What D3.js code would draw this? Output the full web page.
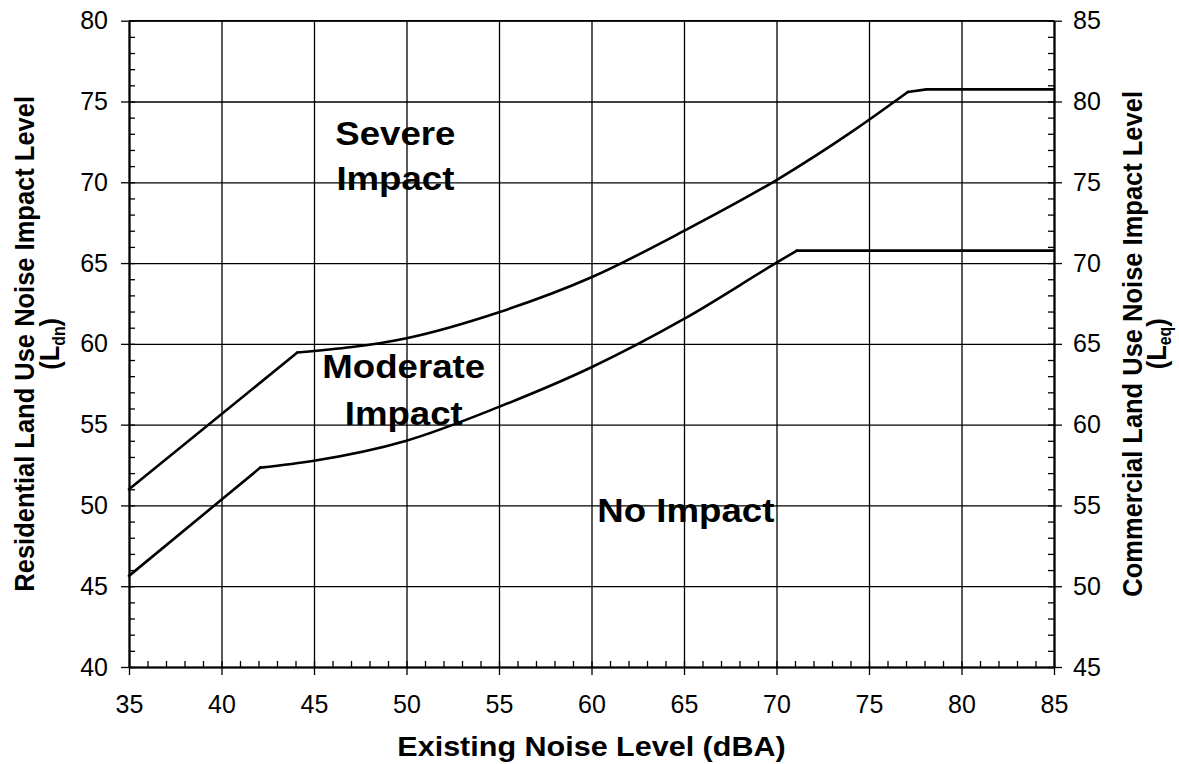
<!DOCTYPE html>
<html><head><meta charset="utf-8">
<script src="https://cdn.jsdelivr.net/npm/d3@7"></script>
<style>
body{margin:0;background:#fff}
text{font-family:"Liberation Sans",Arial,Helvetica,sans-serif;fill:#000}
</style>
</head><body>
<svg id="chart" width="1179" height="764"></svg>
<script>
// ---- data ----
const xTicks = [35, 40, 45, 50, 55, 60, 65, 70, 75, 80, 85];
const leftTicks = [40, 45, 50, 55, 60, 65, 70, 75, 80];
const rightTicks = [45, 50, 55, 60, 65, 70, 75, 80, 85];

// Severe impact onset (upper curve)
const severeX = [35, 44.1, 50, 55, 60, 65, 70, 74.2, 77.1, 78.1, 85];
const severeY = [51.0, 59.46, 60.35, 61.96, 64.12, 66.99, 70.14, 73.23, 75.59, 75.75, 75.75];
// Moderate impact onset (lower curve)
const moderateX = [35, 42.1, 45, 50, 55, 60, 65, 70, 71.1, 85];
const moderateY = [45.64, 52.34, 52.77, 54.01, 56.1, 58.55, 61.54, 65.02, 65.77, 65.77];

const zoneLabels = [
  {lines: ["Severe", "Impact"], x: 49.4, y: [72.31, 69.52]},
  {lines: ["Moderate", "Impact"], x: 49.85, y: [57.89, 54.98]},
  {lines: ["No Impact"], x: 65.1, y: [49.0]}
];

// ---- layout ----
const L = 129, R = 1054, T = 20.7, B = 667;
const SX = 1.11; // horizontal stretch of the bold texts in the reference
const svg = d3.select("#chart");
const x = d3.scaleLinear().domain([35, 85]).range([L, R]);
const y = d3.scaleLinear().domain([40, 80]).range([B, T]);
const yR = d3.scaleLinear().domain([45, 85]).range([B, T]);

// zone labels (under grid)
zoneLabels.forEach(z => {
  z.lines.forEach((t, i) => {
    svg.append("text").attr("transform", `translate(${x(z.x)},${y(z.y[i])}) scale(${SX},1)`)
      .attr("text-anchor", "middle").attr("font-size", 33).attr("font-weight", "bold").text(t);
  });
});

// gridlines
svg.append("g").attr("transform", `translate(0,${B})`)
  .call(d3.axisBottom(x).tickValues(xTicks).tickSize(-(B - T)).tickFormat(""))
  .call(g => g.select(".domain").remove())
  .call(g => g.selectAll("line").attr("stroke", "#000").attr("stroke-width", 1.3));
svg.append("g").attr("transform", `translate(${L},0)`)
  .call(d3.axisLeft(y).tickValues(leftTicks).tickSize(-(R - L)).tickFormat(""))
  .call(g => g.select(".domain").remove())
  .call(g => g.selectAll("line").attr("stroke", "#000").attr("stroke-width", 1.3));

// minor ticks (inside)
const minorX = d3.range(35, 86, 1), minorL = d3.range(40, 81, 1), minorR = d3.range(45, 86, 1);
svg.append("g").attr("transform", `translate(0,${B})`)
  .call(d3.axisBottom(x).tickValues(minorX).tickSize(-6).tickSizeOuter(0).tickFormat(""))
  .call(g => g.select(".domain").remove())
  .call(g => g.selectAll("line").attr("stroke", "#000").attr("stroke-width", 1.3));
svg.append("g").attr("transform", `translate(${L},0)`)
  .call(d3.axisLeft(y).tickValues(minorL).tickSize(-6).tickSizeOuter(0).tickFormat(""))
  .call(g => g.select(".domain").remove())
  .call(g => g.selectAll("line").attr("stroke", "#000").attr("stroke-width", 1.3));
svg.append("g").attr("transform", `translate(${R},0)`)
  .call(d3.axisRight(yR).tickValues(minorR).tickSize(-6).tickSizeOuter(0).tickFormat(""))
  .call(g => g.select(".domain").remove())
  .call(g => g.selectAll("line").attr("stroke", "#000").attr("stroke-width", 1.3));

// major axes
const fs = 25;
const styleAxis = g => {
  g.select(".domain").attr("stroke", "#000").attr("stroke-width", 2.2);
  g.selectAll(".tick line").attr("stroke", "#000").attr("stroke-width", 1.3);
  g.selectAll(".tick text").attr("font-size", fs).attr("font-family", "Liberation Sans, Arial, sans-serif").attr("fill", "#000");
};
svg.append("g").attr("transform", `translate(0,${B})`)
  .call(d3.axisBottom(x).tickValues(xTicks).tickSize(8).tickSizeOuter(0).tickPadding(20))
  .call(styleAxis);
svg.append("g").attr("transform", `translate(${L},0)`)
  .call(d3.axisLeft(y).tickValues(leftTicks).tickSize(8).tickSizeOuter(0).tickPadding(13))
  .call(styleAxis);
svg.append("g").attr("transform", `translate(${R},0)`)
  .call(d3.axisRight(yR).tickValues(rightTicks).tickSize(8).tickSizeOuter(0).tickPadding(11))
  .call(styleAxis);
// top border
svg.append("line").attr("x1", L).attr("x2", R).attr("y1", T).attr("y2", T)
  .attr("stroke", "#000").attr("stroke-width", 1.6);

// curves: linear lead-in, smooth middle, linear tail
function drawCurve(xs, ys, s0, s1) {
  const pts = xs.map((v, i) => [v, ys[i]]);
  const lin = d3.line().x(d => x(d[0])).y(d => y(d[1]));
  const smooth = d3.line().x(d => x(d[0])).y(d => y(d[1])).curve(d3.curveMonotoneX);
  const g = svg.append("g").attr("fill", "none").attr("stroke", "#000")
    .attr("stroke-width", 2.6).attr("stroke-linejoin", "round").attr("stroke-linecap", "round");
  g.append("path").attr("d", lin(pts.slice(0, s0 + 1)));
  g.append("path").attr("d", smooth(pts.slice(s0, s1 + 1)));
  g.append("path").attr("d", lin(pts.slice(s1)));
}
drawCurve(severeX, severeY, 1, 8);
drawCurve(moderateX, moderateY, 1, 8);

// axis titles
svg.append("text").attr("transform", `translate(${(L + R) / 2},756) scale(${SX},1)`).attr("text-anchor", "middle")
  .attr("font-size", 27.5).attr("font-weight", "bold").text("Existing Noise Level (dBA)");

const tfs = 25.5;
const cy = (T + B) / 2;
function vTitle(xPos, main, sub, gap) {
  const g = svg.append("g").attr("transform", `translate(${xPos},${cy}) scale(${SX},1) rotate(-90)`);
  g.append("text").attr("x", 0).attr("y", 0).attr("text-anchor", "middle")
    .attr("font-size", tfs).attr("font-weight", "bold").text(main);
  const t = g.append("text").attr("x", 0).attr("y", gap).attr("text-anchor", "middle")
    .attr("font-size", tfs).attr("font-weight", "bold");
  t.append("tspan").text("(L");
  t.append("tspan").attr("font-size", tfs * 0.62).attr("dy", 5).text(sub);
  t.append("tspan").attr("dy", -5).text(")");
}
vTitle(34, "Residential Land Use Noise Impact Level", "dn", 22.5);
vTitle(1142, "Commercial Land Use Noise Impact Level", "eq", 21.5);
</script>
</body></html>
